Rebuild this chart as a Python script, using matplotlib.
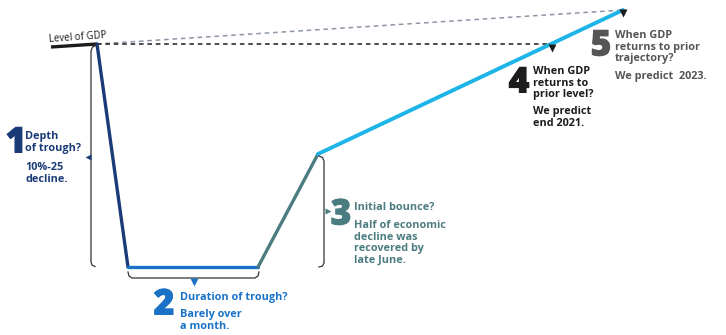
import matplotlib.pyplot as plt
import matplotlib.patheffects as pe

plt.rcParams['font.family'] = ['Open Sans', 'DejaVu Sans']

# GDP path, in drawing units (x to the right, y downwards)
level_x = [51, 97]
level_y = [47, 44]
drop_x = [97, 128]
drop_y = [44, 267]
trough_x = [128, 258]
trough_y = [267, 267]
bounce_x = [258, 318]
bounce_y = [267, 154]
recovery_x = [318, 623]
recovery_y = [154, 10]
prior_level_x = [97, 552]
prior_level_y = [44, 44]
trend_x = [97, 623]
trend_y = [44, 10]

NAVY = '#1b3a78'
BLUE = '#1a72c6'
TEAL = '#4b7c80'
SKY = '#1db4e8'
BLACK = '#1c1c1c'
GREY = '#555555'
BRACKET = '#333333'

fig = plt.figure(figsize=(7.26, 3.35), dpi=100)
ax = fig.add_axes([0, 0, 1, 1])
ax.set_xlim(0, 726)
ax.set_ylim(335, 0)
ax.axis('off')

# reference lines
ax.plot(trend_x, trend_y, color='#8a96a6', lw=1.1, ls=(0, (3, 2.5)))
ax.plot(prior_level_x, prior_level_y, color=BLACK, lw=1.1, ls=(0, (3, 2.5)))

# the path itself
ax.plot(level_x, level_y, color=BLACK, lw=2.4, solid_capstyle='butt')
ax.plot(drop_x, drop_y, color=NAVY, lw=2.4, solid_capstyle='round')
ax.plot(trough_x, trough_y, color=BLUE, lw=2.4, solid_capstyle='round')
ax.plot(bounce_x, bounce_y, color=TEAL, lw=2.4, solid_capstyle='round')
ax.plot(recovery_x, recovery_y, color=SKY, lw=2.8, solid_capstyle='round')

# brackets
ax.plot([96, 92.5, 91, 91, 92, 95], [45.5, 47, 51, 262, 265, 266.5],
        color=BRACKET, lw=0.9)
ax.plot([128, 129, 132, 255, 258, 259], [272, 276, 278, 278, 276, 272],
        color=BRACKET, lw=0.9)
ax.plot([319, 322.5, 324, 324, 322.5, 319], [156, 157.5, 161, 263, 266, 267],
        color=BRACKET, lw=0.9)

# pointers
ax.plot(87.5, 157, marker='<', ms=5, color=NAVY, mec='none')
ax.plot(194, 282, marker='v', ms=5.5, color=BLUE, mec='none')
ax.plot(327.5, 211, marker='>', ms=5, color=TEAL, mec='none')
ax.plot(552, 48, marker='v', ms=6, color=BLACK, mec='none')
ax.plot(623, 13, marker='v', ms=6, color=BLACK, mec='none')

ax.text(48, 42, 'Level of GDP', fontsize=7, color=BLACK, rotation=4,
        ha='left', va='baseline')

small = dict(fontsize=7.8, fontweight='bold', va='top', ha='left', linespacing=1.08)


def number(x, y, s, color):
    # heavy step numbers, thickened a little with a stroke in the same colour
    t = ax.text(x, y, s, color=color, fontsize=25.5, fontweight='heavy',
                va='top', ha='center')
    t.set_path_effects([pe.withStroke(linewidth=0.7, foreground=color)])


# 1
number(16, 125.5, '1', NAVY)
ax.text(25, 131, 'Depth\nof trough?', color=NAVY, **small)
ax.text(25, 162, '10%-25\ndecline.', color=NAVY, **small)

# 2
number(164, 287.5, '2', BLUE)
ax.text(180, 292, 'Duration of trough?', color=BLUE, **small)
ax.text(180, 309, 'Barely over\na month.', color=BLUE, **small)

# 3
number(341, 197.5, '3', TEAL)
ax.text(354, 202, 'Initial bounce?', color=TEAL, **small)
ax.text(354, 220, 'Half of economic\ndecline was\nrecovered by\nlate June.', color=TEAL, **small)

# 4
number(519, 65.5, '4', BLACK)
ax.text(533, 66, 'When GDP\nreturns to\nprior level?', color=BLACK, **small)
ax.text(533, 106, 'We predict\nend 2021.', color=BLACK, **small)

# 5
number(601, 28.5, '5', GREY)
ax.text(615, 30, 'When GDP\nreturns to prior\ntrajectory?', color=GREY, **small)
ax.text(615, 71, 'We predict  2023.', color=GREY, **small)

fig.savefig('out.png', dpi=100)
